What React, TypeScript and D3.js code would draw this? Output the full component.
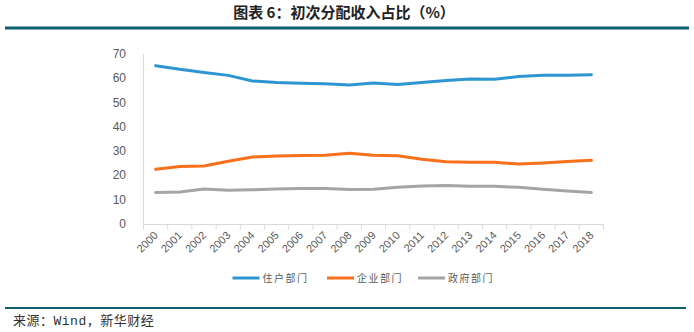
import React from "react";
import * as d3 from "d3";

const years = ["2000","2001","2002","2003","2004","2005","2006","2007","2008","2009","2010","2011","2012","2013","2014","2015","2016","2017","2018"];
const household = [65.2, 63.7, 62.4, 61.2, 58.9, 58.3, 58.0, 57.8, 57.2, 58.1, 57.4, 58.3, 59.1, 59.7, 59.6, 60.7, 61.2, 61.3, 61.5];
const enterprise = [22.5, 23.7, 23.9, 25.8, 27.6, 28.0, 28.2, 28.3, 29.1, 28.3, 28.1, 26.7, 25.6, 25.4, 25.4, 24.7, 25.1, 25.7, 26.2];
const government = [13.0, 13.2, 14.4, 13.9, 14.1, 14.4, 14.6, 14.6, 14.2, 14.3, 15.1, 15.6, 15.9, 15.5, 15.5, 15.1, 14.3, 13.6, 13.0];
const yTicks = [0, 10, 20, 30, 40, 50, 60, 70];
const seriesNames = ["住户部门", "企业部门", "政府部门"];
const seriesColors = ["#2e95d3", "#f8711a", "#a5a5a5"];

export default function App() {
  const W = 694, H = 332;
  const x = d3.scaleBand<string>().domain(years).range([143.5, 603.5]);
  const y = d3.scaleLinear().domain([0, 70]).range([224, 54]);
  const line = d3.line<number>()
    .x((_, i) => (x(years[i]) as number) + x.bandwidth() / 2)
    .y((d) => y(d));
  const data = [household, enterprise, government];
  const legendX = [232.5, 327, 418];
  return (
    <svg width={W} height={H} style={{ position: "absolute", left: 0, top: 0 }}>
      <rect x={0} y={0} width={W} height={H} fill="#fff" />
      <text x={344} y={18} textAnchor="middle" fontFamily="'Noto Sans CJK SC'" fontWeight="bold" fontSize={15} fill="#222">图表 6：初次分配收入占比（%）</text>
      <line x1={5} x2={689} y1={28} y2={28} stroke="#0e5f6e" strokeWidth={3} />
      {/* axes */}
      <line x1={143.5} x2={143.5} y1={54} y2={224} stroke="#d9d9d9" strokeWidth={1} />
      <line x1={143.5} x2={603.5} y1={224.5} y2={224.5} stroke="#d9d9d9" strokeWidth={1} />
      {years.map((yr, i) => (
        <line key={"t" + i} x1={(x(yr) as number)} x2={(x(yr) as number)} y1={224.5} y2={229.5} stroke="#d9d9d9" />
      ))}
      <line x1={603.5} x2={603.5} y1={224.5} y2={229.5} stroke="#d9d9d9" />
      {yTicks.map((t) => (
        <text key={"y" + t} x={126} y={y(t) + 4} textAnchor="end" fontFamily="'Liberation Sans', Arial" fontSize={12} fill="#595959">{t}</text>
      ))}
      {years.map((yr) => {
        const cx = (x(yr) as number) + x.bandwidth() / 2 + 3;
        return (
          <text key={"x" + yr} transform={`translate(${cx},${236}) rotate(-45)`} textAnchor="end" fontFamily="'Liberation Sans', Arial" fontSize={11} fill="#595959">{yr}</text>
        );
      })}
      {data.map((d, i) => (
        <path key={"s" + i} d={line(d) as string} fill="none" stroke={seriesColors[i]} strokeWidth={3} strokeLinejoin="round" strokeLinecap="round" />
      ))}
      {seriesNames.map((n, i) => (
        <g key={"l" + i}>
          <line x1={legendX[i]} x2={legendX[i] + 27} y1={278} y2={278} stroke={seriesColors[i]} strokeWidth={3} />
          <text x={legendX[i] + 30} y={282} fontFamily="'Noto Sans CJK SC'" fontSize={10} letterSpacing={1.5} fill="#595959">{n}</text>
        </g>
      ))}
      <line x1={5} x2={686} y1={308} y2={308} stroke="#0e5f6e" strokeWidth={2} />
      <text x={13} y={325} fontFamily="'Liberation Mono', 'Noto Sans CJK SC'" fontSize={13} letterSpacing={0.5} fill="#333">来源：Wind，新华财经</text>
    </svg>
  );
}
